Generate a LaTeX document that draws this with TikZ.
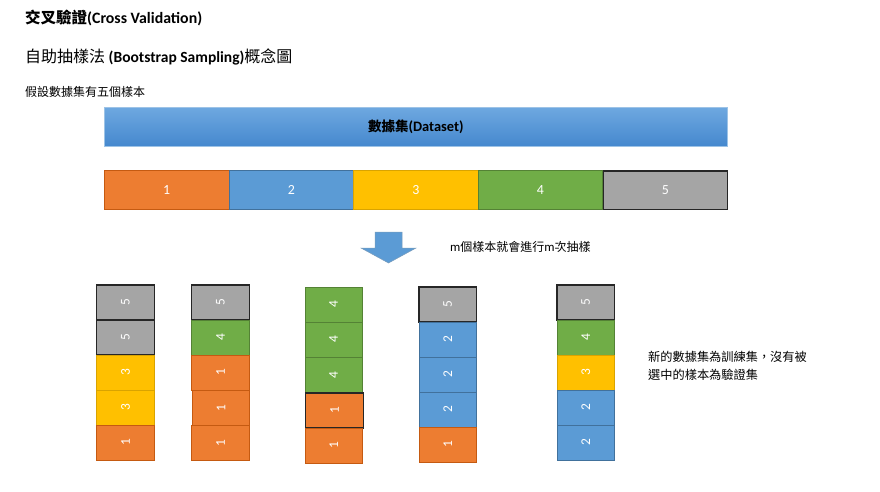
\documentclass[tikz,border=0pt]{standalone}
\usepackage{fontspec}
\setmainfont{Carlito}[Scale=1.07]
\newfontfamily\cjk{Noto Sans CJK TC}
\definecolor{cOr}{HTML}{ED7D31}
\definecolor{cOrD}{HTML}{C55A11}
\definecolor{cBl}{HTML}{5B9BD5}
\definecolor{cBlD}{HTML}{41719C}
\definecolor{cYe}{HTML}{FFC000}
\definecolor{cYeD}{HTML}{D9A300}
\definecolor{cGr}{HTML}{70AD47}
\definecolor{cGrD}{HTML}{548235}
\definecolor{cGy}{HTML}{A5A5A5}
\definecolor{dsTop}{HTML}{6EA8E0}
\definecolor{dsBot}{HTML}{4588CE}
\definecolor{dsLine}{HTML}{9DC3E6}
\tikzset{
  hcell/.style={minimum width=124.6pt, minimum height=39pt, inner sep=0pt, anchor=north west,
    text=white, font=\fontsize{13}{13}\selectfont, line width=0.8pt},
  vcell/.style={rotate=90, minimum width=35pt, minimum height=57.5pt, inner sep=0pt,
    text=white, font=\fontsize{12.5}{12.5}\selectfont, line width=0.8pt},
  kOr/.style={fill=cOr, draw=cOrD},
  kBl/.style={fill=cBl, draw=cBlD},
  kYe/.style={fill=cYe, draw=cYeD},
  kGr/.style={fill=cGr, draw=cGrD},
  kGy/.style={fill=cGy, draw=black!85, line width=1.3pt},
  kOrB/.style={fill=cOr, draw=black!85, line width=1.1pt},
  txt/.style={inner sep=0pt, anchor=west, text=black}
}
\begin{document}
\begin{tikzpicture}[x=1pt, y=-1pt]
\useasboundingbox (0,0) rectangle (880,491);
% titles
\node[txt, font=\fontsize{14.8}{14.8}\selectfont\bfseries] (t1) at (25,18) {{\cjk\fontsize{15.5}{15.5}\selectfont 交叉驗證}(Cross Validation)};
\node[txt, font=\fontsize{14.5}{14.5}\selectfont] (t2) at (25,57) {{\cjk\fontsize{16}{16}\selectfont 自助抽樣法} \textbf{(Bootstrap Sampling)}{\cjk\fontsize{16}{16}\selectfont 概念圖}};
\node[txt, font=\fontsize{12}{12}\selectfont\cjk] (t3) at (25,92) {假設數據集有五個樣本};
% dataset bar
\node[anchor=north west, minimum width=623pt, minimum height=39pt, inner sep=0pt,
  top color=dsTop, bottom color=dsBot, draw=dsLine, line width=0.6pt,
  font=\fontsize{13.5}{13.5}\selectfont\bfseries] (ds) at (104,107) {{\cjk 數據集}(Dataset)};
% sample row
\node[hcell, kOr] (r1) at (104,170) {1};
\node[hcell, kBl] (r2) at (228.6,170) {2};
\node[hcell, kYe] (r3) at (353.2,170) {3};
\node[hcell, kGr] (r4) at (477.8,170) {4};
\node[hcell, kGy, minimum width=124pt, minimum height=38.4pt] (r5) at (602.7,170.3) {5};
% arrow
\fill[cBl, draw=cBlD!70, line width=0.5pt] (375,232) -- (402,232) -- (402,248) -- (416,248)
  -- (388.5,263) -- (361,248) -- (375,248) -- cycle;
\node[txt, font=\fontsize{12}{12}\selectfont] (at) at (450,247) {m{\cjk 個樣本就會進行}m{\cjk 次抽樣}};
% column 1
\node[vcell, kGy] (a1) at (125.5,302.5) {5};
\node[vcell, kGy] (a2) at (125.5,337.5) {5};
\node[vcell, kYe] (a3) at (125.5,372.5) {3};
\node[vcell, kYe] (a4) at (125.5,407.5) {3};
\node[vcell, kOr] (a5) at (125.5,442.5) {1};
% column 2
\node[vcell, kGy] (b1) at (220.5,302.5) {5};
\node[vcell, kGr] (b2) at (220.5,337.5) {4};
\node[vcell, kOr] (b3) at (220.5,372.5) {1};
\node[vcell, kOr] (b4) at (221,408) {1};
\node[vcell, kOr] (b5) at (220.5,443) {1};
% column 3
\node[vcell, kGr] (c1) at (333.7,304.5) {4};
\node[vcell, kGr] (c2) at (333.7,339.5) {4};
\node[vcell, kGr] (c3) at (333.7,375) {4};
\node[vcell, kOrB] (c4) at (334.5,410.5) {1};
\node[vcell, kOr] (c5) at (333.7,445.5) {1};
% column 4
\node[vcell, kGy] (d1) at (447.7,304.5) {5};
\node[vcell, kBl] (d2) at (447.7,339.5) {2};
\node[vcell, kBl] (d3) at (447.7,374.5) {2};
\node[vcell, kBl] (d4) at (447.7,409.5) {2};
\node[vcell, kOr] (d5) at (447.7,444.5) {1};
% column 5
\node[vcell, kGy] (e1) at (585.7,302.5) {5};
\node[vcell, kGr] (e2) at (585.7,337.5) {4};
\node[vcell, kYe] (e3) at (585.7,372.5) {3};
\node[vcell, kBl] (e4) at (585.7,407.5) {2};
\node[vcell, kBl] (e5) at (585.7,442.5) {2};
% note
\node[txt, anchor=north west, align=left, font=\fontsize{12.2}{17.5}\selectfont\cjk] (note) at (648,351) {新的數據集為訓練集，沒有被\\選中的樣本為驗證集};
\end{tikzpicture}
\end{document}
